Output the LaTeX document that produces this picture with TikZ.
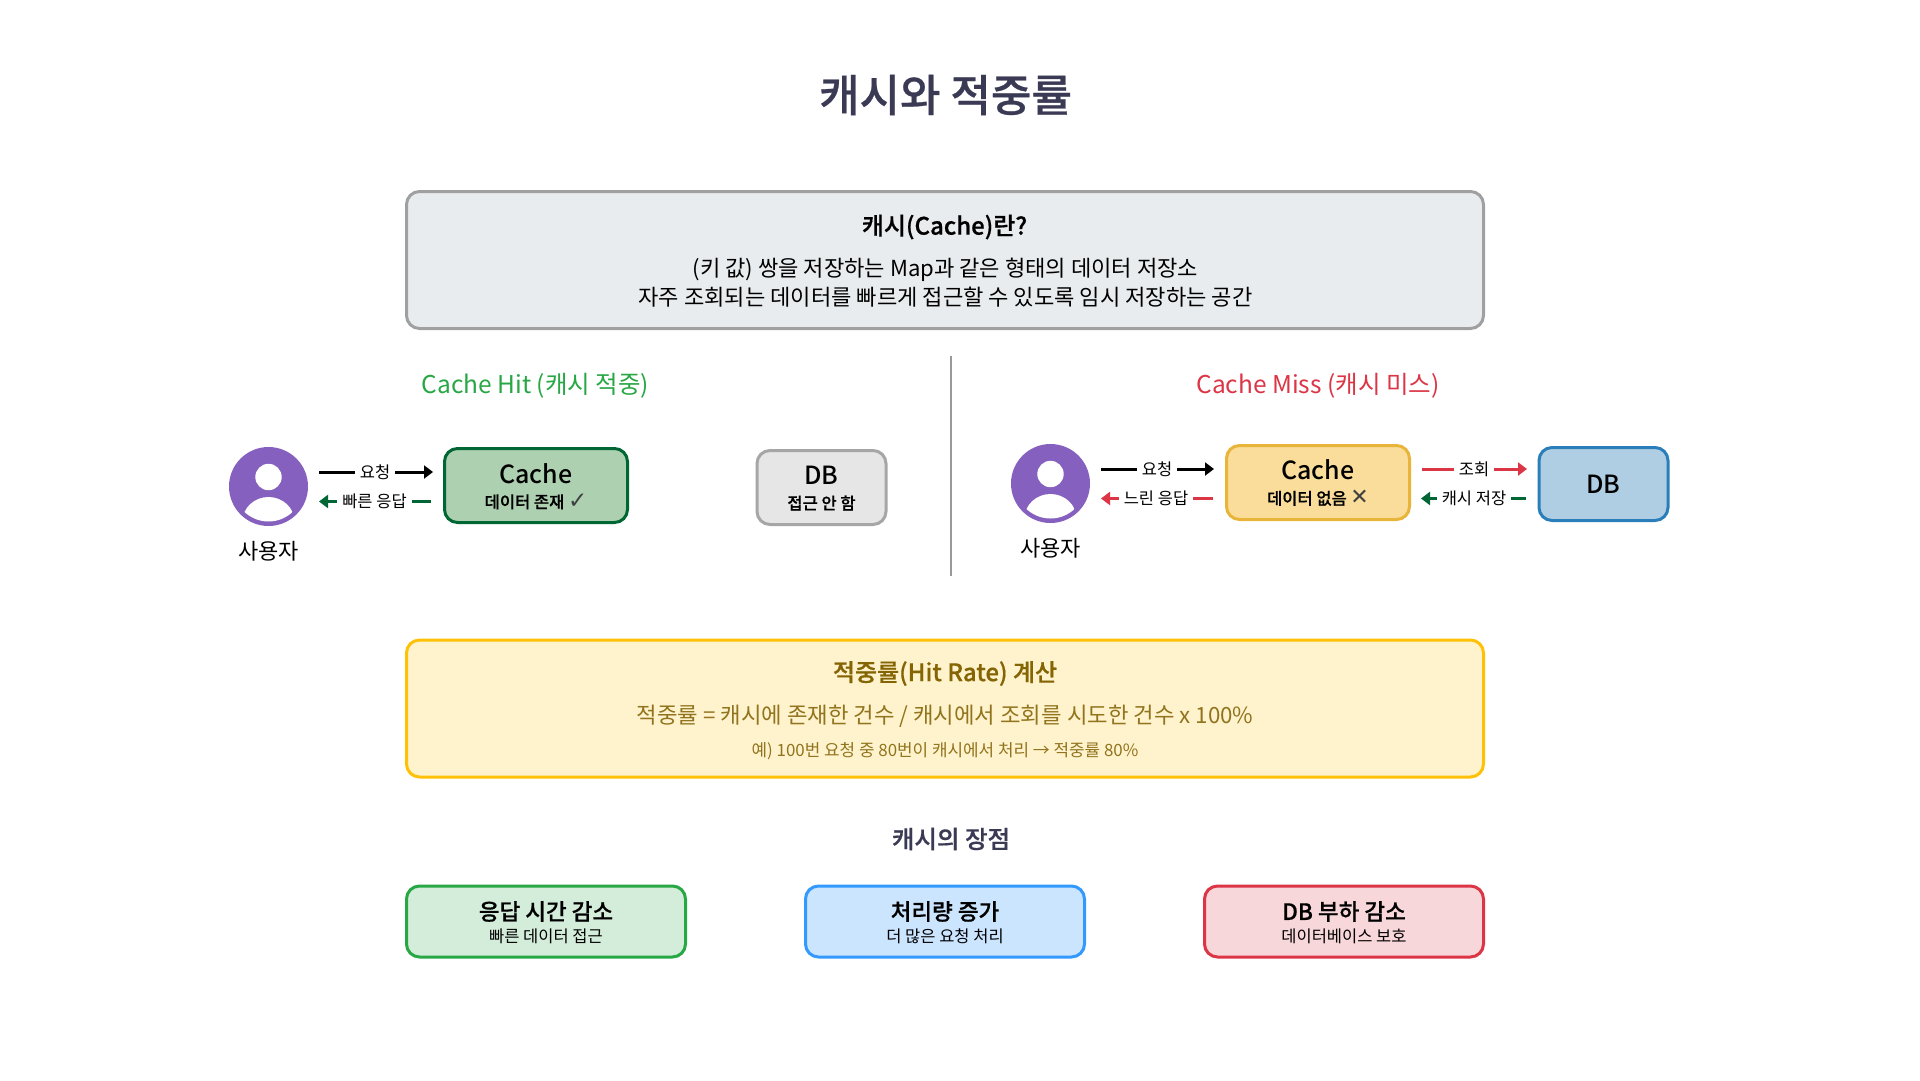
\documentclass[tikz,border=0pt]{standalone}
\usepackage{fontspec}
\setmainfont{Noto Sans CJK KR}
\newfontfamily\medfont{Noto Sans CJK KR}[UprightFont=* Medium]
\newfontfamily\semifont{Noto Sans CJK KR}[UprightFont=* Medium,FakeBold=0.6]
\newfontfamily\symfont{DejaVu Sans}
\usetikzlibrary{arrows.meta}
\definecolor{ink}{HTML}{3A3A55}
\definecolor{hitgreen}{HTML}{28A745}
\definecolor{missred}{HTML}{DC3545}
\definecolor{purp}{HTML}{8560BE}
\definecolor{darkgreen}{HTML}{006633}
\definecolor{brownt}{HTML}{856404}
\definecolor{infofill}{HTML}{E9ECEF}
\definecolor{infoedge}{HTML}{A0A0A0}
\definecolor{hitcachefill}{HTML}{ADD0B0}
\definecolor{dbgrayfill}{HTML}{E6E6E6}
\definecolor{dbgrayedge}{HTML}{A6A6A6}
\definecolor{missfill}{HTML}{FADD9A}
\definecolor{missedge}{HTML}{E9B43A}
\definecolor{dbbluefill}{HTML}{AFCDE3}
\definecolor{dbblueedge}{HTML}{2A7FBA}
\definecolor{ratefill}{HTML}{FFF3CD}
\definecolor{rateedge}{HTML}{FFC107}
\definecolor{a1fill}{HTML}{D4EDDA}
\definecolor{a2fill}{HTML}{CCE5FF}
\definecolor{a2edge}{HTML}{3399FF}
\definecolor{a3fill}{HTML}{F8D7DA}
\newcommand{\fsz}[1]{\fontsize{#1}{#1}\selectfont}
\newcommand{\boxat}[7]{% name, cx, cy, w, h, fill, stroke
  \node[box, minimum width=#4pt, minimum height=#5pt, fill=#6, draw=#7] (#1) at (#2,#3) {};}
\newcommand{\person}[3]{% name, cx, cy
  \node[circle, fill=purp, minimum size=79pt, inner sep=0pt] (#1) at (#2,#3) {};
  \begin{scope}
    \clip (#2,#3) circle (35);
    \fill[white] (#2,#3+35) ellipse [x radius=26, y radius=24.5];
  \end{scope}
  \fill[white] (#2,#3-9.5) circle (13.2);}
\tikzset{
  box/.style={rounded corners=13pt, line width=3pt, inner sep=0pt},
  cachetxt/.style={inner sep=0pt, font=\medfont\fsz{25}},
  subb/.style={inner sep=0pt, font=\semifont\fsz{16.5}},
  lab/.style={fill=white, inner ysep=1pt, inner xsep=5pt, font=\fsz{16.5}},
  link/.style={line width=3pt},
  headr/.style={-{Triangle[length=9pt,width=13pt,inset=0pt]}},
}
\begin{document}
\begin{tikzpicture}[x=1pt,y=-1pt]
\useasboundingbox (0,0) rectangle (1920,1080);
\fill[white] (0,0) rectangle (1920,1080);
\node[inner sep=0pt, text=ink, font=\semifont\fsz{44}] (title) at (945.5,95) {캐시와 적중률};

% info
\boxat{info}{945}{260}{1077}{137}{infofill}{infoedge}
\node[inner sep=0pt, font=\semifont\fsz{24}] (infot) at (944.5,227) {캐시(Cache)란?};
\node[inner sep=0pt, font=\fsz{22.1}, align=center] (infol) at (945.5,282.5) {(키 값) 쌍을 저장하는 Map과 같은 형태의 데이터 저장소\\[5pt]자주 조회되는 데이터를 빠르게 접근할 수 있도록 임시 저장하는 공간};

% divider
\coordinate (divtop) at (950.5,356);
\coordinate (divbot) at (950.5,576);
\draw[line width=2pt, color=gray!80] (divtop) -- (divbot);

% hit
\node[inner sep=0pt, text=hitgreen, font=\fsz{24.5}] (hittitle) at (535.5,386) {Cache Hit (캐시 적중)};
\person{u1}{268.5}{486.5}
\node[inner sep=0pt, font=\fsz{22}] (u1lab) at (268.5,551) {사용자};
\boxat{c1}{536}{485.5}{183}{74}{hitcachefill}{darkgreen}
\node[cachetxt] (c1a) at (536,474) {Cache};
\node[subb] (c1b) at (536,501.5) {데이터 존재 {\symfont\fsz{23}\color{black!75}✓}};
\boxat{d1}{821.5}{487.5}{129}{74}{dbgrayfill}{dbgrayedge}
\node[cachetxt] (d1a) at (821.5,475) {DB};
\node[subb] (d1b) at (821.5,503) {접근 안 함};

\coordinate (h1a) at (319,472); \coordinate (h1b) at (433,472);
\draw[link,headr,black] (h1a) -- (h1b);
\node[lab] (h1l) at (375,472) {요청};
\coordinate (h2a) at (431,501.5); \coordinate (h2b) at (319,501.5);
\draw[link,headr,darkgreen] (h2a) -- (h2b);
\node[lab] (h2l) at (374.5,501.5) {빠른 응답};

% miss
\node[inner sep=0pt, text=missred, font=\fsz{24.5}] (misstitle) at (1318,386) {Cache Miss (캐시 미스)};
\person{u2}{1050.5}{483.5}
\node[inner sep=0pt, font=\fsz{22}] (u2lab) at (1050.5,548) {사용자};
\boxat{c2}{1318}{482.5}{183}{74}{missfill}{missedge}
\node[cachetxt] (c2a) at (1318,470) {Cache};
\node[subb] (c2b) at (1318,498) {데이터 없음 {\symfont\bfseries\fsz{22}\color{black!75}✕}};
\boxat{d2}{1603.5}{484}{129}{73}{dbbluefill}{dbblueedge}
\node[cachetxt] (d2a) at (1603.5,484.5) {DB};

\coordinate (m1a) at (1101,469); \coordinate (m1b) at (1214,469);
\draw[link,headr,black] (m1a) -- (m1b);
\node[lab] (m1l) at (1157,469) {요청};
\coordinate (m2a) at (1213,498.5); \coordinate (m2b) at (1101,498.5);
\draw[link,headr,missred] (m2a) -- (m2b);
\node[lab] (m2l) at (1156,498.5) {느린 응답};
\coordinate (m3a) at (1422,469); \coordinate (m3b) at (1527,469);
\draw[link,headr,missred] (m3a) -- (m3b);
\node[lab] (m3l) at (1474,469) {조회};
\coordinate (m4a) at (1526,498.5); \coordinate (m4b) at (1421,498.5);
\draw[link,headr,darkgreen] (m4a) -- (m4b);
\node[lab] (m4l) at (1474,498.5) {캐시 저장};

% hit rate
\boxat{rate}{945}{708.5}{1077}{137}{ratefill}{rateedge}
\node[inner sep=0pt, text=brownt, font=\semifont\fsz{24}] (ratet) at (945,673.5) {적중률(Hit Rate) 계산};
\node[inner sep=0pt, text=brownt!90!white, font=\fsz{22.3}] (ratef) at (945,716) {적중률 = 캐시에 존재한 건수 / 캐시에서 조회를 시도한 건수 x 100\%};
\node[inner sep=0pt, text=brownt!90!white, font=\fsz{16.9}] (rates) at (945,751) {예) 100번 요청 중 80번이 캐시에서 처리 → 적중률 80\%};

% advantages
\node[inner sep=0pt, text=ink, font=\semifont\fsz{24.5}] (advt) at (951,839) {캐시의 장점};
\boxat{a1}{546}{921.5}{279}{71}{a1fill}{hitgreen}
\node[inner sep=0pt, font=\semifont\fsz{22.5}] (a1a) at (546,911.5) {응답 시간 감소};
\node[inner sep=0pt, font=\fsz{16.5}] (a1b) at (546,936) {빠른 데이터 접근};
\boxat{a2}{945}{921.5}{279}{71}{a2fill}{a2edge}
\node[inner sep=0pt, font=\semifont\fsz{22.5}] (a2a) at (945,911.5) {처리량 증가};
\node[inner sep=0pt, font=\fsz{16.5}] (a2b) at (945,936) {더 많은 요청 처리};
\boxat{a3}{1344}{921.5}{279}{71}{a3fill}{missred}
\node[inner sep=0pt, font=\semifont\fsz{22.5}] (a3a) at (1344,911.5) {DB 부하 감소};
\node[inner sep=0pt, font=\fsz{16.5}] (a3b) at (1344,936) {데이터베이스 보호};
\end{tikzpicture}
\end{document}
